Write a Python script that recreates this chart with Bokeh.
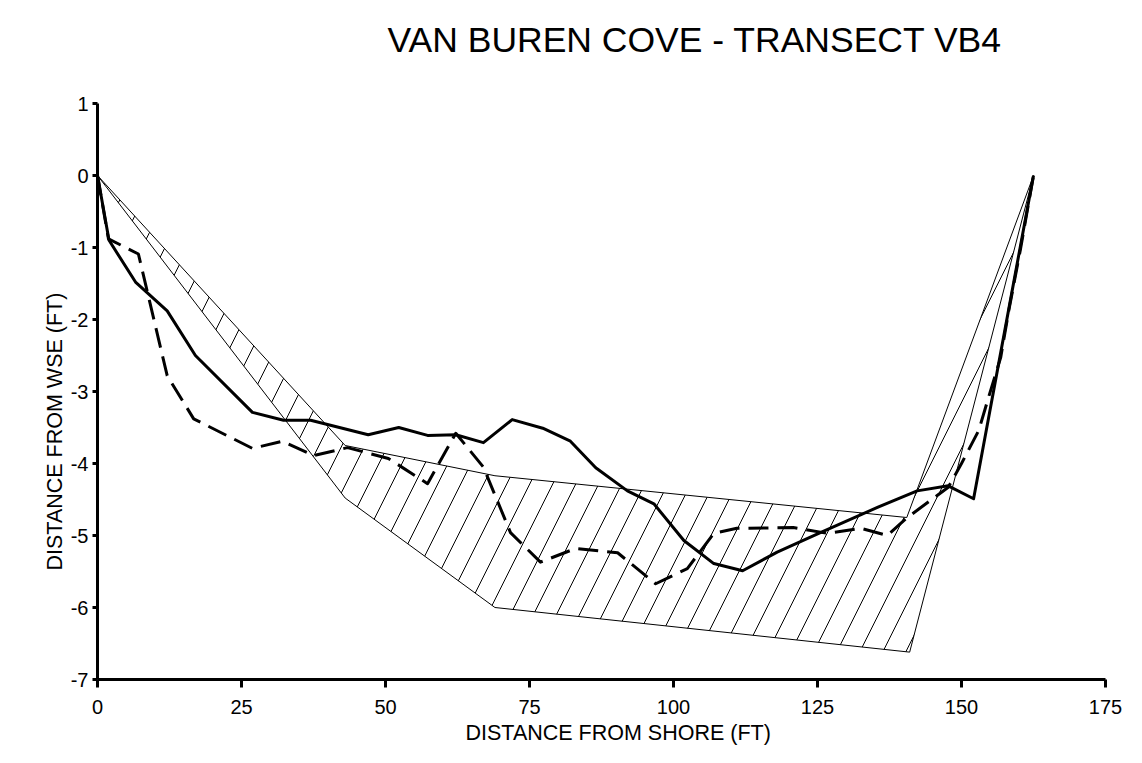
from bokeh.plotting import figure
from bokeh.models import Range1d, FixedTicker, Title
from bokeh.embed import file_html
from bokeh.resources import INLINE

# ---- data ----
solid_x = [0, 2, 6.6, 12.1, 17, 26.9, 32.3, 37, 47, 52.3, 57.3, 62.2, 67, 72, 77.3, 82.1, 86.5, 92,
           96.6, 101.8, 107, 112, 118, 125.5, 135.4, 142.3, 147.7, 152.1, 162.5]
solid_y = [0, -0.9, -1.48, -1.88, -2.5, -3.29, -3.4, -3.4, -3.6, -3.5, -3.61, -3.6, -3.71, -3.39, -3.51,
           -3.69, -4.06, -4.38, -4.56, -5.07, -5.39, -5.49, -5.23, -4.96, -4.61, -4.38, -4.31, -4.49, 0]

dash_x = [0, 1.9, 7.1, 12.1, 16.7, 26.9, 32.1, 37.5, 43.4, 50.5, 57.3, 62.2, 67, 71.7, 76.9, 83, 90.3,
          96.9, 102.4, 107, 111, 120.8, 126.7, 132.5, 137.1, 140.6, 147.7, 150, 153, 154.7, 156.8,
          158.2, 160.2, 162.5]
dash_y = [0, -0.88, -1.09, -2.78, -3.38, -3.79, -3.69, -3.89, -3.78, -3.93, -4.28, -3.58, -4.05, -4.96,
          -5.37, -5.18, -5.24, -5.67, -5.46, -4.97, -4.9, -4.89, -4.97, -4.9, -5.0, -4.75, -4.33, -4.0,
          -3.54, -3.08, -2.53, -1.88, -1.04, 0]

upper_x = [0, 43, 69, 140.5, 162.5]
upper_y = [0, -3.75, -4.17, -4.75, 0]
lower_x = [0, 43, 69, 141, 162.5]
lower_y = [0, -4.48, -6.0, -6.62, 0]

x_ticks = [0, 25, 50, 75, 100, 125, 150, 175]
y_ticks = [-7, -6, -5, -4, -3, -2, -1, 0, 1]

title_text = "VAN BUREN COVE - TRANSECT VB4"
x_label = "DISTANCE FROM SHORE (FT)"
y_label = "DISTANCE FROM WSE (FT)"

FONT = "Liberation Sans"

p = figure(width=1134, height=753, x_range=Range1d(0, 175), y_range=Range1d(-7, 1),
           output_backend="svg", toolbar_location=None,
           min_border_left=97, min_border_right=29, min_border_top=103, min_border_bottom=74)

p.grid.visible = False
p.outline_line_color = None
p.background_fill_color = "white"

for ax, ticks, tout, stand in ((p.xaxis, x_ticks, 8, 12), (p.yaxis, y_ticks, 5, 4)):
    ax.ticker = FixedTicker(ticks=ticks)
    ax.major_label_overrides = {t: str(t) for t in ticks}
    ax.axis_line_width = 3
    ax.axis_line_color = "black"
    ax.major_tick_line_width = 3
    ax.major_tick_line_color = "black"
    ax.major_tick_out = tout
    ax.major_tick_in = 0
    ax.minor_tick_line_color = None
    ax.major_label_text_font = FONT
    ax.major_label_text_font_size = "20px"
    ax.major_label_text_color = "black"
    ax.major_label_standoff = stand

# hatched region between the two profiles
poly_x = upper_x + lower_x[::-1][1:-1]
poly_y = upper_y + lower_y[::-1][1:-1]
p.patch(poly_x, poly_y, fill_color=None, line_color="black", line_width=1,
        hatch_pattern="/", hatch_color="black", hatch_weight=1, hatch_scale=46)

p.line(dash_x, dash_y, line_color="black", line_width=3, line_dash="20 9", line_join="round")
p.line(solid_x, solid_y, line_color="black", line_width=3, line_join="round")

# spacer between frame and title
spacer = Title(text=" ", text_font_size="1px", standoff=41)
p.add_layout(spacer, "above")
t = Title(text=title_text, align="left", offset=290, text_font=FONT, text_font_size="35.5px",
          text_font_style="normal", text_color="black", standoff=0)
p.add_layout(t, "above")

xl = Title(text=x_label, align="left", offset=368, text_font=FONT, text_font_size="21.5px",
           text_font_style="normal", text_color="black", standoff=5)
p.add_layout(xl, "below")

yl = Title(text=y_label, align="left", offset=109, text_font=FONT, text_font_size="21.5px",
           text_font_style="normal", text_color="black", standoff=2)
p.add_layout(yl, "left")

open("out.html", "w").write(file_html(p, INLINE))
